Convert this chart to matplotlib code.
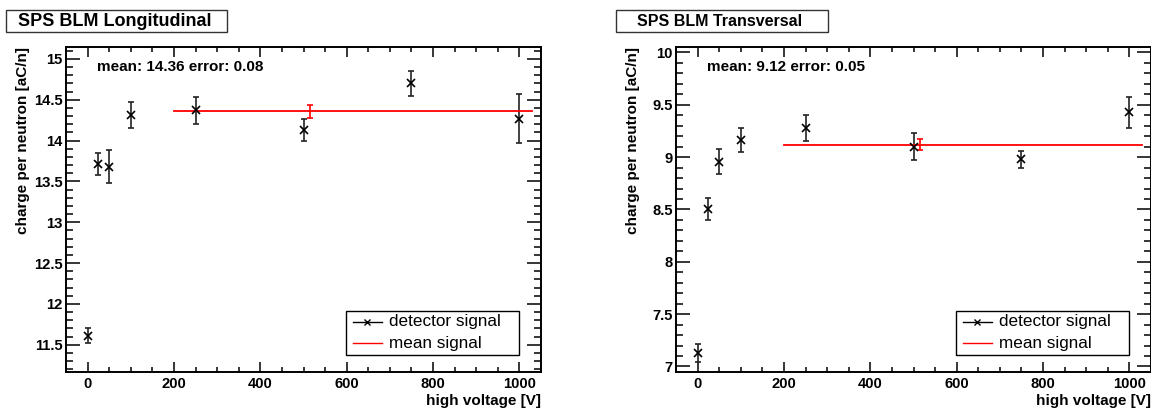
import matplotlib
matplotlib.use("Agg")
import matplotlib.pyplot as plt
from matplotlib.patches import Rectangle
from matplotlib.ticker import MultipleLocator, FuncFormatter

plt.rcParams['font.family'] = ['Liberation Sans', 'DejaVu Sans']

# high voltage settings [V]
hv = [0, 25, 50, 100, 250, 500, 750, 1000]

# SPS BLM Longitudinal: charge per neutron [aC/n]
long_q = [11.61, 13.71, 13.68, 14.31, 14.37, 14.13, 14.70, 14.27]
long_err = [0.09, 0.135, 0.20, 0.16, 0.17, 0.13, 0.15, 0.30]
long_mean = 14.36
long_mean_err = 0.08

# SPS BLM Transversal
trans_q = [7.13, 8.50, 8.955, 9.16, 9.28, 9.10, 8.98, 9.43]
trans_err = [0.085, 0.105, 0.12, 0.115, 0.125, 0.13, 0.08, 0.147]
trans_mean = 9.12
trans_mean_err = 0.05

titles = ["SPS BLM Longitudinal", "SPS BLM Transversal"]
mean_range = [200, 1030]
mean_err_x = 515

W, H = 1151, 411
fig = plt.figure(figsize=(W / 100, H / 100), dpi=100)

def fx(px):
    return px / W

def fy(py):
    return 1 - py / H

panels = [
    (66, titles[0], 6, 227, 13, long_q, long_err, long_mean, long_mean_err, (11.17, 15.15)),
    (676, titles[1], 616, 828, 11.5, trans_q, trans_err, trans_mean, trans_mean_err, (6.95, 10.055)),
]

for left, title, bx0, bx1, tsize, q, err, mean, mean_err, ylim in panels:
    ax = fig.add_axes([fx(left), fy(371.7), fx(475), (371.7 - 46.7) / H])
    ax.set_xlim(-50, 1050)
    ax.set_ylim(*ylim)

    ax.errorbar(hv, q, yerr=err, fmt='x', color='black', ms=6, mew=1.2,
                elinewidth=1.2, ecolor='#222222', capsize=2.4, capthick=1.2)
    ax.plot(mean_range, [mean, mean], color='red', lw=1.3)
    ax.errorbar([mean_err_x], [mean], yerr=[mean_err], fmt='none', ecolor='red',
                elinewidth=1.2, capsize=2.4, capthick=1.2)

    ax.xaxis.set_major_locator(MultipleLocator(200))
    ax.xaxis.set_minor_locator(MultipleLocator(50))
    ax.yaxis.set_major_locator(MultipleLocator(0.5))
    ax.yaxis.set_minor_locator(MultipleLocator(0.1))
    ax.yaxis.set_major_formatter(FuncFormatter(lambda v, p: '%g' % round(v, 2)))
    ax.tick_params(which='both', direction='in', top=True, right=True, width=1.1)
    ax.tick_params(axis='y', which='major', length=10, pad=2.5)
    ax.tick_params(axis='y', which='minor', length=5)
    ax.tick_params(axis='x', which='major', length=7, pad=4)
    ax.tick_params(axis='x', which='minor', length=3.6)
    for lab in ax.get_xticklabels() + ax.get_yticklabels():
        lab.set_fontweight('bold')
        lab.set_fontsize(10.6)
    for s in ax.spines.values():
        s.set_linewidth(1.4)

    ax.set_xlabel("high voltage [V]", fontsize=11, fontweight='bold', loc='right')
    ax.xaxis.set_label_coords(1.0, -0.07)
    ax.set_ylabel("charge per neutron [aC/n]", fontsize=11, fontweight='bold', loc='top')
    ax.yaxis.set_label_coords(-0.075, 1.0)

    ax.text(0.0646, 0.9385, "mean: %.2f error: %.2f" % (mean, mean_err),
            transform=ax.transAxes, fontsize=11, fontweight='bold', va='center')

    # legend box (ROOT style)
    ax.add_patch(Rectangle((0.5895, 0.0514), 0.3642, 0.1354, transform=ax.transAxes,
                           facecolor='white', edgecolor='black', lw=1.0, zorder=5))
    ax.plot([0.6036, 0.6659], [0.1538, 0.1538], color='black', lw=1.0,
            transform=ax.transAxes, zorder=6)
    ax.plot([0.6337], [0.1538], 'x', color='black', ms=5, mew=1.0,
            transform=ax.transAxes, zorder=6)
    ax.plot([0.6036, 0.6659], [0.0874, 0.0874], color='red', lw=1.0,
            transform=ax.transAxes, zorder=6)
    ax.text(0.68, 0.1538, "detector signal", transform=ax.transAxes, fontsize=12.3,
            va='center', zorder=6)
    ax.text(0.68, 0.0874, "mean signal", transform=ax.transAxes, fontsize=12.3,
            va='center', zorder=6)

    # title box
    fig.patches.append(Rectangle((fx(bx0), fy(32)), fx(bx1 - bx0), 22 / H,
                                 transform=fig.transFigure, facecolor='white',
                                 edgecolor='#333333', lw=1.0))
    fig.text(fx((bx0 + bx1) / 2 - 2), fy(21.5), title, fontsize=tsize,
             fontweight='bold', ha='center', va='center')

fig.savefig("out.png", dpi=100)
